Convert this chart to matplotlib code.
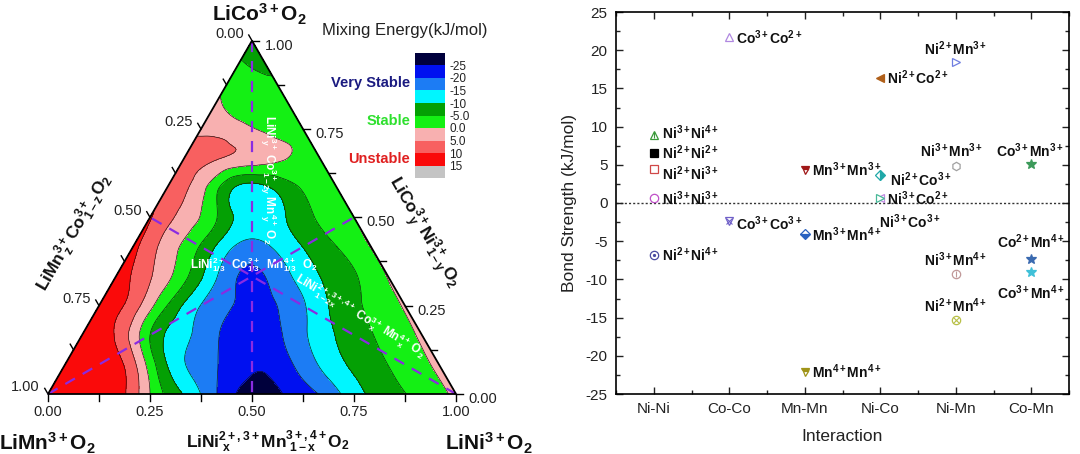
import numpy as np
import matplotlib
matplotlib.use("Agg")
import matplotlib.pyplot as plt
import matplotlib.tri as mtri
from matplotlib.patches import Polygon
from matplotlib.ticker import MultipleLocator

plt.rcParams["font.family"] = ["Liberation Sans", "DejaVu Sans"]
plt.rcParams["mathtext.fontset"] = "custom"
plt.rcParams["mathtext.rm"] = "Liberation Sans"
plt.rcParams["mathtext.it"] = "Liberation Sans:italic"
plt.rcParams["mathtext.bf"] = "Liberation Sans:bold"
plt.rcParams["axes.unicode_minus"] = False

# mixing energy (kJ/mol) on a 1/12 lattice
# row j: Co fraction j/12, entries go from the Mn side towards the Ni side
energy_rows = [
    [14, 13, 12.3, 0, -10.3, -20.3, -27.5, -24.5, -19.7, -12.1, -7, -3.3, 1],
    [13.5, 13, 6.5, -10, -17.5, -22.5, -24, -18, -11.5, -6.9, -3, 1],
    [13, 9.5, -5, -13.8, -19.8, -23.5, -19.3, -12.6, -7.3, -3.3, 0.7],
    [12.5, 7.5, -5, -15.2, -20.2, -20.8, -15.6, -8.4, -4, 0.5],
    [12.5, 5.5, -3.6, -15.2, -21, -16.2, -10, -5.5, 0.3],
    [11.5, 2.8, -5.6, -15.3, -15.3, -9.9, -5, 0.2],
    [10.5, 3.2, -5.3, -13, -10, -4.2, -0.2],
    [8, 1.8, -10.3, -10.3, -4.5, -1.5],
    [7.5, 5.2, 3, 0.1, -2],
    [3.5, 2, -1.3, -2.5],
    [0.3, -2.8, -3.2],
    [-3.6, -5.6],
    [-7],
]
energy_levels = [-30, -25, -20, -15, -10, -5, 0, 5, 10, 15, 20]
level_labels = ["-25", "-20", "-15", "-10", "-5.0", "0.0", "5.0", "10", "15"]
axis_ticks = [0.0, 0.25, 0.5, 0.75, 1.0]

# bond strengths (kJ/mol) of cation pairs
categories = ["Ni-Ni", "Co-Co", "Mn-Mn", "Ni-Co", "Ni-Mn", "Co-Mn"]
pair_group = ["Ni-Ni"] * 5 + ["Co-Co"] * 2 + ["Mn-Mn"] * 3 + ["Ni-Co"] * 4 + ["Ni-Mn"] * 4 + ["Co-Mn"] * 3
pair_names = [
    r"Ni^{3+}Ni^{4+}", r"Ni^{2+}Ni^{2+}", r"Ni^{2+}Ni^{3+}", r"Ni^{3+}Ni^{3+}", r"Ni^{2+}Ni^{4+}",
    r"Co^{3+}Co^{2+}", r"Co^{3+}Co^{3+}",
    r"Mn^{3+}Mn^{3+}", r"Mn^{3+}Mn^{4+}", r"Mn^{4+}Mn^{4+}",
    r"Ni^{2+}Co^{2+}", r"Ni^{2+}Co^{3+}", r"Ni^{3+}Co^{2+}", r"Ni^{3+}Co^{3+}",
    r"Ni^{2+}Mn^{3+}", r"Ni^{3+}Mn^{3+}", r"Ni^{3+}Mn^{4+}", r"Ni^{2+}Mn^{4+}",
    r"Co^{3+}Mn^{3+}", r"Co^{2+}Mn^{4+}", r"Co^{3+}Mn^{4+}",
]
bond_strength = [8.9, 6.6, 4.4, 0.6, -6.8, 21.7, -2.3, 4.3, -4.1, -22.1,
                 16.4, 3.6, 0.7, 0.6, 18.4, 4.8, -9.3, -15.3, 5.1, -7.3, -9.0]

band_colors = ["#00003c", "#0010f0", "#1c7cf4", "#00f6ff", "#04a004",
               "#14f014", "#f8b0b0", "#f86060", "#fa0a0a", "#c4c4c4"]

# marker, colour, fillstyle, overlay marker
pair_style = [
    ("^", "#3a9a3a", "none", "|"), ("s", "#000000", "full", None), ("s", "#d04848", "none", None),
    ("o", "#c050c8", "none", None), ("o", "#4a4aa0", "none", "."),
    ("^", "#b088e0", "none", None), ("v", "#7060c8", "none", "x"),
    ("v", "#a01818", "top", None), ("D", "#2a62c0", "bottom", None), ("v", "#a09418", "top", None),
    ("<", "#b0601a", "full", None), ("D", "#20a8a8", "right", None), ("<", "#c08ae0", "none", None),
    (">", "#48b898", "none", None),
    (">", "#6f7ee0", "none", None), ("h", "#a0a0a0", "none", None), ("o", "#c09898", "none", "|"),
    ("o", "#b8c048", "none", "x"),
    ("*", "#3c9a5a", "full", None), ("*", "#3a6ab0", "full", None), ("*", "#40c0d8", "full", None),
]
# label offset in points and alignment
label_pos = [
    (6, 2, "left"), (6, 0, "left"), (6, -3, "left"), (6, 0, "left"), (6, 0, "left"),
    (5, 0, "left"), (5, -2, "left"),
    (5, 0, "left"), (5, 0, "left"), (5, 0, "left"),
    (5, 0, "left"), (7, -3, "left"), (5, -1, "left"), (21, -17, "center"),
    (0, 10, "center"), (-3, 11, "center"), (0, 10, "center"), (0, 10, "center"),
    (-1, 9.5, "center"), (0, 12.5, "center"), (0, -15, "center"),
]

fig = plt.figure(figsize=(10.8, 4.54), dpi=100)

# ---------------- ternary map ----------------
h = np.sqrt(3) / 2
S = 408.0  # pixels per unit side


def px(x, y):
    return (x - 48) / S, (394 - y) / S


ax = fig.add_axes([0, 0, 0.5, 1])
ax.set_xlim(-48 / S, 492 / S)
ax.set_ylim(-60 / S, 394 / S)
ax.axis("off")

n = len(energy_rows) - 1
tx, ty, tz = [], [], []
for j, row in enumerate(energy_rows):
    for k, e in enumerate(row):
        ni, co = k / n, j / n
        tx.append(ni + co / 2)
        ty.append(co * h)
        tz.append(e)
tri = mtri.Triangulation(tx, ty)
tri_f, z_f = mtri.UniformTriRefiner(tri).refine_field(np.array(tz, float), subdiv=4)
z_f = np.clip(z_f, -29.9, 14.9)
cs = ax.tricontourf(tri_f, z_f, levels=energy_levels, colors=band_colors)
ax.tricontour(tri_f, z_f, levels=energy_levels[1:-1], colors="#111", linewidths=0.45,
              linestyles="solid")

verts = np.array([[0, 0], [1, 0], [0.5, h]])
ax.add_patch(Polygon(verts, closed=True, fill=False, ec="k", lw=1.3, zorder=5))

# medians of the triangle
for i in range(3):
    a = verts[i]
    m = (verts[(i + 1) % 3] + verts[(i + 2) % 3]) / 2
    ax.plot([a[0], m[0]], [a[1], m[1]], color="#8a2be2", lw=1.6, ls=(0, (5, 4)), zorder=4)

# edge ticks and labels
tl = 0.016
for t in np.arange(0, 1.001, 0.125):
    bx, by = t, 0
    ax.plot([bx, bx], [by, by - tl], color="k", lw=1)
    rx, ry = 1 - t / 2, t * h
    ax.plot([rx, rx + tl], [ry, ry], color="k", lw=1)
    lx, ly = 0.5 - 0.5 * t, h * (1 - t)
    ax.plot([lx, lx - 0.5 * tl], [ly, ly + h * tl], color="k", lw=1)
for t in axis_ticks:
    ax.text(t, -0.044, f"{t:.2f}", ha="center", va="center", fontsize=10.5, color="#222")
    ax.text(1 - t / 2 + 0.066, t * h - 0.012, f"{t:.2f}", ha="center", va="center",
            fontsize=10.5, color="#222")
    ax.text(0.5 - 0.5 * t - 0.055, h * (1 - t) + 0.016, f"{t:.2f}", ha="center", va="center",
            fontsize=10.5, color="#222")

tb = dict(fontweight="bold", ha="center", va="center", color="#111")
ax.text(*px(259, 14), r"$\mathbf{LiCo^{3+}O_2}$", fontsize=15, **tb)
ax.text(*px(47, 443), r"$\mathbf{LiMn^{3+}O_2}$", fontsize=15, **tb)
ax.text(*px(489, 443), r"$\mathbf{LiNi^{3+}O_2}$", fontsize=15, **tb)
ax.text(*px(268, 442), r"$\mathbf{LiNi^{2+,3+}_{\ x}Mn^{3+,4+}_{\ 1-x}O_2}$", fontsize=12.5, **tb)
ax.text(*px(74, 233), r"$\mathbf{LiMn^{3+}_{\ z}Co^{3+}_{\ 1-z}O_2}$", fontsize=12.5,
        rotation=60, rotation_mode="anchor", **tb)
ax.text(*px(423, 233), r"$\mathbf{LiCo^{3+}_{\ y}Ni^{3+}_{\ 1-y}O_2}$", fontsize=12.5,
        rotation=-60, rotation_mode="anchor", **tb)

wt = dict(color="white", ha="center", va="center", fontsize=8.5)
ax.text(*px(268, 180), r"$\mathbf{LiNi^{3+}_{\ y}\ Co^{3+}_{\ 1-2y}\ Mn^{4+}_{\ y}\ O_2}$",
        rotation=-90, **wt)
ax.text(*px(254, 265), r"$\mathbf{LiNi^{2+}_{1/3}\ \ Co^{3+}_{1/3}\ \ Mn^{4+}_{1/3}\ \ O_2}$", **wt)
ax.text(*px(360, 316), r"$\mathbf{LiNi^{2+,3+,4+}_{\ 1-2x}\ Co^{3+}_{\ x}\ Mn^{4+}_{\ x}\ O_2}$",
        rotation=-31, rotation_mode="anchor", **wt)

ax.text(*px(405, 31), "Mixing Energy(kJ/mol)", fontsize=12, ha="center", va="center", color="#222")
ax.text(*px(410, 83), "Very Stable", fontsize=10.5, fontweight="bold", ha="right", va="center",
        color="#1a1a80")
ax.text(*px(410, 121), "Stable", fontsize=10.5, fontweight="bold", ha="right", va="center",
        color="#2ee02e")
ax.text(*px(410, 159), "Unstable", fontsize=10.5, fontweight="bold", ha="right", va="center",
        color="#e02020")

cax = fig.add_axes([415 / 1080, 1 - 178 / 454, 30 / 1080, 125 / 454])
cb = fig.colorbar(cs, cax=cax, ticks=energy_levels[1:-1])
cax.invert_yaxis()
cb.outline.set_visible(False)
cb.ax.set_yticklabels(level_labels)
cax.tick_params(length=0, labelsize=8.5, pad=3, colors="#222")

# ---------------- bond strength ----------------
ax2 = fig.add_axes([616 / 1080, 60 / 454, 453 / 1080, 382 / 454])
ax2.axhline(0, color="#333", lw=1, ls=(0, (1.5, 1.5)), zorder=1)
for i, name in enumerate(pair_names):
    x = categories.index(pair_group[i]) + 1
    y = bond_strength[i]
    mk, col, fs, over = pair_style[i]
    ms = 5 if mk == "D" else (7 if mk == "*" else 6)
    if fs == "none":
        ax2.plot(x, y, marker=mk, ms=ms, mfc="white", mec=col, mew=0.9, ls="none", zorder=3)
    else:
        ax2.plot(x, y, marker=mk, ms=ms, mfc=col, mec=col, mew=0.9, fillstyle=fs,
                 markerfacecoloralt="white", ls="none", zorder=3)
    if over:
        ax2.plot(x, y, marker=over, ms=4 if over != "." else 3, color=col, mew=0.8,
                 ls="none", zorder=4)
    dx, dy, ha = label_pos[i]
    ax2.annotate(r"$\mathbf{" + name + "}$", (x, y), xytext=(dx, dy), textcoords="offset points",
                 ha=ha, va="center", fontsize=10, color="#111")

ax2.set_xlim(0.5, 6.5)
ax2.set_ylim(-25, 25)
ax2.set_xticks(range(1, len(categories) + 1))
ax2.set_xticklabels(categories)
ax2.xaxis.set_minor_locator(MultipleLocator(0.5))
ax2.yaxis.set_major_locator(MultipleLocator(5))
ax2.yaxis.set_minor_locator(MultipleLocator(2.5))
ax2.tick_params(which="both", direction="in", top=True, right=True, labelsize=11,
                colors="#222", pad=6)
ax2.tick_params(which="major", length=5, width=1)
ax2.tick_params(which="minor", length=3, width=1)
for sp in ax2.spines.values():
    sp.set_linewidth(1.2)
ax2.set_xlabel("Interaction", fontsize=12.5, color="#222", labelpad=9)
ax2.set_ylabel("Bond Strength (kJ/mol)", fontsize=12.5, color="#222", labelpad=6)

fig.savefig("out.png", dpi=100, facecolor="white")
